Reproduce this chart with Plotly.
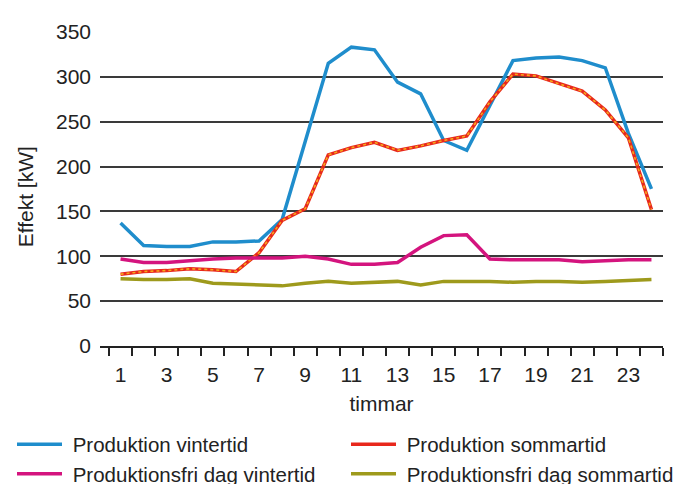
import plotly.graph_objects as go

hours = list(range(1, 25))
x_labels = [str(h) for h in range(1, 24, 2)]
y_ticks = [0, 50, 100, 150, 200, 250, 300, 350]

prod_vinter = [137, 112, 111, 111, 116, 116, 117, 141, 228, 315, 333, 330,
               294, 281, 229, 218, 268, 318, 321, 322, 318, 310, 237, 175]
prod_sommar = [80, 83, 84, 86, 85, 83, 104, 140, 153, 213, 221, 227,
               218, 223, 229, 234, 272, 303, 301, 292, 284, 263, 232, 152]
fri_vinter = [97, 93, 93, 95, 97, 98, 98, 98, 100, 97, 91, 91,
              93, 110, 123, 124, 97, 96, 96, 96, 94, 95, 96, 96]
fri_sommar = [75, 74, 74, 75, 70, 69, 68, 67, 70, 72, 70, 71,
              72, 68, 72, 72, 72, 71, 72, 72, 71, 72, 73, 74]

names = ["Produktion vintertid", "Produktion sommartid",
         "Produktionsfri dag vintertid", "Produktionsfri dag sommartid"]

FONT = "Liberation Sans, Arial, sans-serif"
TXT = "#222222"
NB = "\u00a0"

# page has an 8px body margin, so the figure is sized to fit the window
W, H = 679, 476
ML, MR, MT, MB = 92, 24, 16, 138
PW, PH = W - ML - MR, H - MT - MB

fig = go.Figure()
fig.add_trace(go.Scatter(x=hours, y=prod_vinter, mode="lines", name=NB + names[0],
                         legend="legend",
                         line=dict(color="#1f8dcc", width=3.5)))
fig.add_trace(go.Scatter(x=hours, y=prod_sommar, mode="lines", name=NB + names[1],
                         legend="legend2",
                         line=dict(color="#e8281c", width=3.5)))
fig.add_trace(go.Scatter(x=hours, y=prod_sommar, mode="lines", showlegend=False,
                         hoverinfo="skip",
                         line=dict(color="#f6a81a", width=1.6, dash="dot")))
fig.add_trace(go.Scatter(x=hours, y=fri_vinter, mode="lines", name=NB + names[2],
                         legend="legend",
                         line=dict(color="#d4147e", width=3.5)))
fig.add_trace(go.Scatter(x=hours, y=fri_sommar, mode="lines", name=NB + names[3],
                         legend="legend2",
                         line=dict(color="#9e9a1c", width=3.5)))

leg = dict(orientation="v", xref="paper", yref="container",
           y=0.1254, xanchor="left", yanchor="top",
           itemwidth=45, font=dict(size=20.5, color=TXT),
           tracegroupgap=0, bgcolor="rgba(0,0,0,0)", traceorder="normal")

fig.update_layout(
    width=W, height=H,
    margin=dict(l=ML, r=MR, t=MT, b=MB),
    paper_bgcolor="white", plot_bgcolor="white",
    font=dict(family=FONT, size=21, color=TXT),
    showlegend=True,
    legend=dict(leg, x=(4 - ML) / PW),
    legend2=dict(leg, x=(338 - ML) / PW),
    xaxis=dict(range=[0.11, 24.5], tickmode="array",
               tickvals=list(range(1, 24, 2)), ticktext=x_labels,
               ticks="", showgrid=False, zeroline=False,
               showline=True, linecolor=TXT, linewidth=2,
               ticklabelstandoff=9,
               minor=dict(tickmode="array",
                          tickvals=[h - 0.5 for h in range(1, 26)],
                          ticks="outside", ticklen=8, tickwidth=2,
                          tickcolor=TXT, showgrid=False),
               title=dict(text="timmar", standoff=11,
                          font=dict(size=21, color=TXT))),
    yaxis=dict(range=[0, 351], tickmode="array", tickvals=y_ticks,
               ticks="", showgrid=True, gridcolor="#3a3a3a", gridwidth=1.8,
               zeroline=False, showline=False, ticklabelstandoff=8),
    annotations=[dict(text="Effekt [kW]", textangle=-90, showarrow=False,
                      xref="paper", yref="paper", x=-0.1332, y=0.472,
                      xanchor="center", yanchor="middle",
                      font=dict(size=21, color=TXT))],
)

fig.write_html("out.html")
